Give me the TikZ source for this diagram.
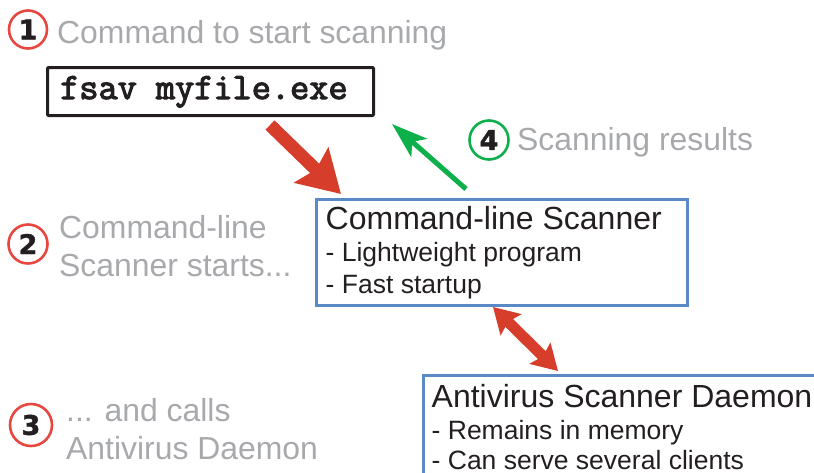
\documentclass[tikz,border=0pt]{standalone}
\usepackage{fontspec}
\setmainfont{Liberation Sans}
\newfontfamily\cmdfont[FakeBold=3]{Latin Modern Mono}
\newfontfamily\numfont[FakeBold=1.5]{DejaVu Sans Bold}
\usetikzlibrary{arrows.meta}
\definecolor{ink}{HTML}{231F20}
\definecolor{softgrey}{HTML}{A7A9AC}
\definecolor{redarrow}{HTML}{D63D2B}
\definecolor{redring}{HTML}{E8473F}
\definecolor{greenish}{HTML}{0DB04B}
\definecolor{bluebox}{HTML}{5A8AC6}
\tikzset{
  x=1pt,y=-1pt,
  note/.style={anchor=base west,inner sep=0pt,text=softgrey,font=\fontsize{31.9}{32}\selectfont},
  title/.style={anchor=base west,inner sep=0pt,text=ink,font=\fontsize{32}{32}\selectfont},
  item/.style={anchor=base west,inner sep=0pt,text=ink,font=\fontsize{26.5}{27}\selectfont},
  ring/.style={circle,draw=#1,line width=2.6pt,inner sep=0pt,text=ink,font=\numfont\fontsize{27}{27}\selectfont},
  panel/.style={rectangle,draw=bluebox,line width=3pt,anchor=north west,inner sep=0pt},
  cmdbox/.style={rectangle,draw=ink,line width=3pt,rounded corners=1pt,anchor=north west,inner sep=0pt},
}
\begin{document}
\begin{tikzpicture}
\useasboundingbox (0,0) rectangle (814,472);
\clip (0,0) rectangle (814,472);
\node[ring=redring,minimum size=38pt] (n1) at (28,29.5) {1};
\node[note] (t1) at (57,43) {Command to start scanning};
\node[cmdbox,minimum width=326pt,minimum height=48pt] (cmd) at (46,66) {};
\node[anchor=base west,inner sep=0pt,text=ink,font=\cmdfont\fontsize{37.2}{37}\selectfont] (cmdtext) at (60,99) {fsav myfile.exe};
\node[ring=redring,minimum size=39pt] (n2) at (28,244) {2};
\node[note] (t2a) at (59,238) {Command-line};
\node[note] (t2b) at (59,276) {Scanner starts...};
\node[ring=redring,minimum size=42pt] (n3) at (31,425) {3};
\node[note] (t3a) at (66,421) {... and calls};
\node[note] (t3b) at (66,459) {Antivirus Daemon};
\node[ring=greenish,minimum size=39pt] (n4) at (489,140) {4};
\node[note] (t4) at (517,150) {Scanning results};
\node[panel,minimum width=371pt,minimum height=106pt] (scan) at (314.7,197.5) {};
\node[title] (scant) at (325.5,229) {Command-line Scanner};
\node[item] (scana) at (325.5,261) {- Lightweight program};
\node[item] (scanb) at (325.5,293) {- Fast startup};
\node[panel,minimum width=420pt,minimum height=120pt] (daemon) at (422,374) {};
\node[title] (dt) at (431.5,407) {Antivirus Scanner Daemon};
\node[item] (da) at (431.5,439) {- Remains in memory};
\node[item] (db) at (431.5,469.5) {- Can serve several clients};
\coordinate (a1s) at (270,125);
\coordinate (a1e) at (341,194);
\coordinate (a2s) at (493,307);
\coordinate (a2e) at (558,371);
\coordinate (a3s) at (466,189);
\coordinate (a3e) at (392,124);
\draw[redarrow,line width=13pt,-{Stealth[length=41pt,width=48pt,inset=6pt]}] (a1s) -- (a1e);
\draw[redarrow,line width=11pt,{Stealth[length=25pt,width=29pt,inset=4pt]}-{Stealth[length=25pt,width=29pt,inset=4pt]}] (a2s) -- (a2e);
\draw[greenish,line width=5pt,-{Stealth[length=36pt,width=24pt,inset=9pt]}] (a3s) -- (a3e);
\end{tikzpicture}
\end{document}
